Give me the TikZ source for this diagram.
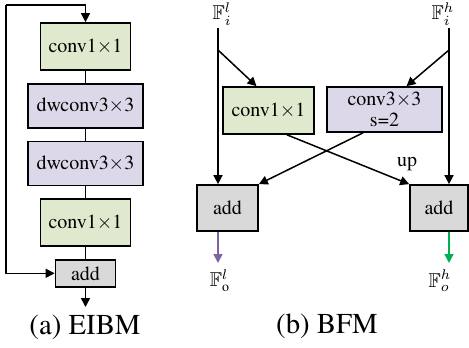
\documentclass[tikz,border=0pt]{standalone}
\usepackage{amssymb}
\usepackage{fontspec}
\setmainfont{TeX Gyre Termes}
\usepackage{tikz}
\usetikzlibrary{arrows.meta,positioning,calc}

\definecolor{convgreen}{HTML}{DEE9CD}
\definecolor{dwpurple}{HTML}{DCD8E9}
\definecolor{addgray}{HTML}{D9D9D9}
\definecolor{outpurple}{HTML}{8064A2}
\definecolor{outgreen}{HTML}{00B050}

\begin{document}
\begin{tikzpicture}[x=0.5pt, y=-0.5pt, node distance=6pt,
  >={Triangle[length=4.5pt,width=4.5pt]}]
\tikzstyle{block}=[rectangle,
                   draw=black,
                   line width=0.85pt,
                   inner sep=0pt,
                   align=center,
                   font=\normalsize]
\tikzstyle{conv}=[block, fill=convgreen, minimum width=45pt, minimum height=23.5pt]
\tikzstyle{dwconv}=[block, fill=dwpurple, minimum width=57.5pt, minimum height=22pt]
\tikzstyle{addop}=[block, fill=addgray]
\tikzstyle{feat}=[font=\normalsize]
\tikzstyle{caption}=[font=\Large]
\tikzstyle{flow}=[line width=0.75pt]

\useasboundingbox (0,0) rectangle (469,347);

% (a) EIBM
\node[conv] (conva) at (85.5,46.5) {conv1$\times$1};
\node[dwconv, below=of conva] (dwa) {dwconv3$\times$3};
\node[dwconv, below=of dwa] (dwb) {dwconv3$\times$3};
\node[conv, below=of dwb] (convb) {conv1$\times$1};
\node[addop, below=of convb, minimum width=30pt, minimum height=13.5pt] (adda) {add};
\coordinate (loop) at (6,5);
\coordinate (outa) at (85.5,307);
\node[caption] (capa) at (85,327) {(a) EIBM};

\draw[flow, ->] (loop) -| (conva.north);
\draw[flow, ->] (loop) |- (adda.west);
\draw[flow] (conva) -- (dwa) (dwa) -- (dwb) (dwb) -- (convb) (convb) -- (adda);
\draw[flow, ->] (adda) -- (outa);

% (b) BFM
\node[feat] (fil) at (222,14) {$\mathbb{F}_i^l$};
\node[feat] (fih) at (443,14) {$\mathbb{F}_i^h$};
\coordinate (ltop) at (218,28);
\coordinate (lsplit) at (218,50);
\coordinate (rtop) at (449,28);
\coordinate (rsplit) at (449,50);

\node[conv, minimum width=45.5pt] (convl) at (268.5,110.5) {conv1$\times$1};
\node[dwconv, minimum height=22.5pt] (convh) at (384.5,109.5)
  {conv3$\times$3\\[-1.5pt]s=2};
\node[addop, minimum width=30.5pt, minimum height=23pt] (addl) at (227.5,208) {add};
\node[addop, minimum width=29pt, minimum height=23pt] (addh) at (439,208) {add};
\node[font=\normalsize] (up) at (407,164) {up};

\node[feat] (fol) at (220,281) {$\mathbb{F}_{\mathrm{o}}^l$};
\node[feat] (foh) at (440,281) {$\mathbb{F}_o^h$};
\coordinate (outl) at (218,263);
\coordinate (outh) at (449,263);
\node[caption] (capb) at (327,326) {(b) BFM};

\draw[flow, ->] (ltop) -- (ltop |- addl.north);
\draw[flow, ->] (rtop) -- (rtop |- addh.north);
\draw[flow, ->] (lsplit) -- ($(convl.north)+(-12,0)$);
\draw[flow, ->] (rsplit) -- ($(convh.north)+(22,0)$);
\draw[flow, ->] ($(convl.south)+(18.5,0)$) -- (addh.north west);
\draw[flow, ->] ($(convh.south)+(-21.5,0)$) -- (addl.north east);

\draw[flow, ->, draw=outpurple, fill=outpurple] (outl |- addl.south) -- (outl);
\draw[flow, ->, draw=outgreen, fill=outgreen] (outh |- addh.south) -- (outh);
\end{tikzpicture}
\end{document}
